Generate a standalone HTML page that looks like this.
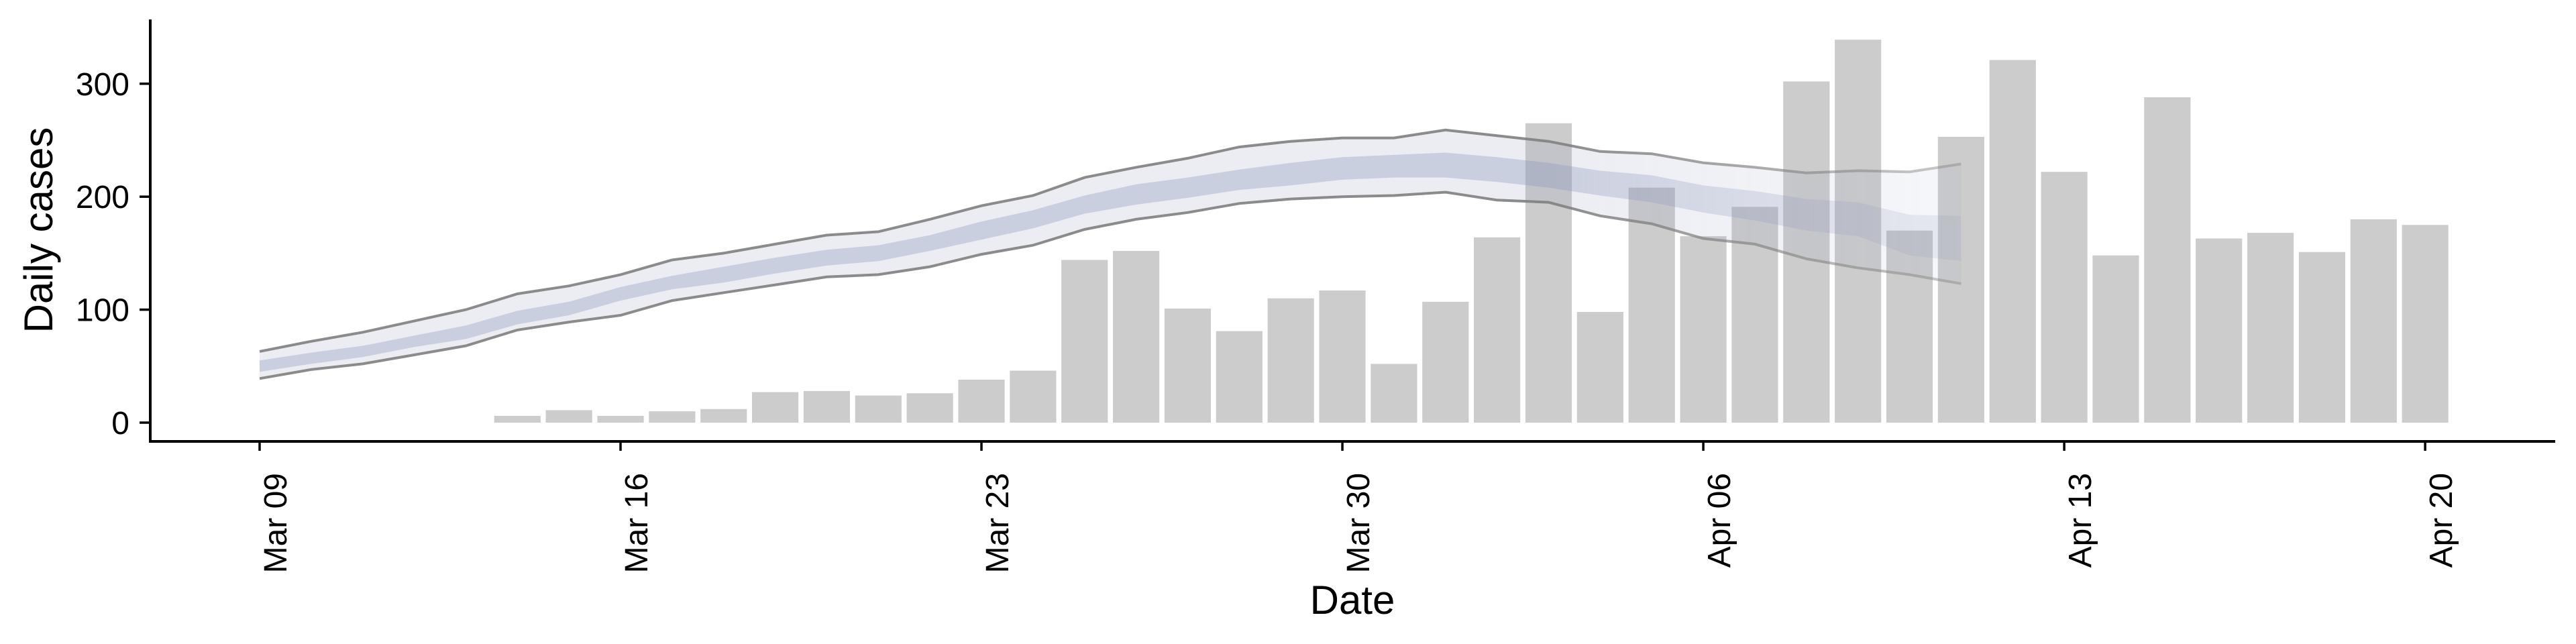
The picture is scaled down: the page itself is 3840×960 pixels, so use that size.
<!DOCTYPE html>
<html><head><meta charset="utf-8"><style>
html,body{margin:0;padding:0;background:#fff;}
svg{display:block;font-family:"Liberation Sans",Arial,sans-serif;}
</style></head><body>
<svg id="chart" width="3840" height="960" viewBox="0 0 3840 960">
<defs>
<linearGradient id="fadeGrad" gradientUnits="userSpaceOnUse" x1="2305" y1="0" x2="2923" y2="0">
<stop offset="0" stop-color="#fff"/><stop offset="1" stop-color="#777"/>
</linearGradient>
<mask id="fadeMask" maskUnits="userSpaceOnUse" x="0" y="0" width="3840" height="960">
<rect x="0" y="0" width="2305" height="960" fill="#fff"/>
<rect x="2305" y="0" width="1535" height="960" fill="url(#fadeGrad)"/>
</mask>
</defs>
<g id="bars"></g>
<g id="ribbon" mask="url(#fadeMask)"></g>
<g id="axes"></g>
</svg>
<script>
const barStartDay = 5;
const barValues = [6,11,6,10,12,27,28,24,26,38,46,144,152,101,81,110,117,52,107,164,265,98,208,165,191,302,339,170,253,321,222,148,288,163,168,151,180,175];
const ribbonUpper = [63,72,80,90,100,114,121,131,144,150,158,166,169,180,192,201,217,226,234,244,249,252,252,259,254,249,240,238,230,226,221,223,222,229];
const ribbonLower = [39,47,52,60,68,82,89,95,108,115,122,129,131,138,149,157,171,180,186,194,198,200,201,204,197,195,183,176,163,158,145,137,131,123];
const innerMid = [50,57,63,72,80,93,101,114,124,131,139,146,150,159,170,180,193,202,208,215,220,225,227,228,224,219,212,207,198,192,184,180,166,163];
const innerHalf = [5,5,5,5,6,6,6,6,6,7,7,7,7,7,8,8,8,9,9,9,10,10,10,11,11,11,11,12,12,13,14,15,18,20];
const yTicks = [0,100,200,300];
const xTickDays = [0,7,14,21,28,35,42];
const xTickLabels = ["Mar 09","Mar 16","Mar 23","Mar 30","Apr 06","Apr 13","Apr 20"];

const NS = "http://www.w3.org/2000/svg";
const X0 = 387, DAY = 76.86, Y0 = 630, UNIT = 1.684;
function xs(d){ return X0 + d*DAY; }
function ys(v){ return Y0 - v*UNIT; }
function mk(tag, attrs, parent){
  const e = document.createElementNS(NS, tag);
  for (const k in attrs) e.setAttribute(k, attrs[k]);
  parent.appendChild(e); return e;
}
const bars = document.getElementById('bars');
const ribbon = document.getElementById('ribbon');
const axes = document.getElementById('axes');
const bw = DAY*0.9;
barValues.forEach((v,i)=>{
  const d = barStartDay + i;
  const r = mk('rect',{x:xs(d)-bw/2,y:ys(v),width:bw,height:ys(0)-ys(v),fill:'#cccccc'},bars);
  
  
});
function bandPath(up, lo){
  let p = up.map((v,i)=>(i?'L':'M')+xs(i).toFixed(1)+','+ys(v).toFixed(1)).join(' ');
  for (let i=lo.length-1;i>=0;i--) p += ' L'+xs(i).toFixed(1)+','+ys(lo[i]).toFixed(1);
  return p+' Z';
}
const outer = mk('path',{d:bandPath(ribbonUpper,ribbonLower),fill:'#9aa5c4','fill-opacity':0.2},ribbon);


const iu = innerMid.map((m,i)=>m+innerHalf[i]);
const il = innerMid.map((m,i)=>m-innerHalf[i]);
const inner = mk('path',{d:bandPath(iu,il),fill:'#8c98bb','fill-opacity':0.35},ribbon);


function line(arr){ return arr.map((v,i)=>(i?'L':'M')+xs(i).toFixed(1)+','+ys(v).toFixed(1)).join(' '); }
const ul = mk('path',{d:line(ribbonUpper),fill:'none',stroke:'#808080','stroke-width':4,'stroke-opacity':0.9},ribbon);


const ll = mk('path',{d:line(ribbonLower),fill:'none',stroke:'#808080','stroke-width':4,'stroke-opacity':0.9},ribbon);



// axes
const ya = mk('line',{x1:224,y1:29,x2:224,y2:660,stroke:'#000','stroke-width':4},axes);


const xa = mk('line',{x1:222,y1:658,x2:3809,y2:658,stroke:'#000','stroke-width':4},axes);


yTicks.forEach(v=>{
  const t = mk('line',{x1:208,y1:ys(v),x2:224,y2:ys(v),stroke:'#000','stroke-width':3.5},axes);
  
  
  const l = mk('text',{x:193,y:ys(v)+17,'text-anchor':'end','font-size':48,fill:'#000'},axes);
  l.textContent = v;
  
  
});
xTickDays.forEach((d,i)=>{
  const t = mk('line',{x1:xs(d),y1:658,x2:xs(d),y2:672,stroke:'#000','stroke-width':3.5},axes);
  
  
  const tx = xs(d)+40, ty = 705;
  const l = mk('text',{x:tx,y:ty,'text-anchor':'end','font-size':48,fill:'#000',transform:'rotate(-90 '+tx+' '+ty+')'},axes);
  l.textContent = xTickLabels[i];
  
  
});
const xt = mk('text',{x:2016,y:915,'text-anchor':'middle','font-size':60,fill:'#000'},axes);
xt.textContent = 'Date';


const yt = mk('text',{x:78,y:343,'text-anchor':'middle','font-size':60,fill:'#000',transform:'rotate(-90 78 343)'},axes);
yt.textContent = 'Daily cases';


</script>
</body></html>
